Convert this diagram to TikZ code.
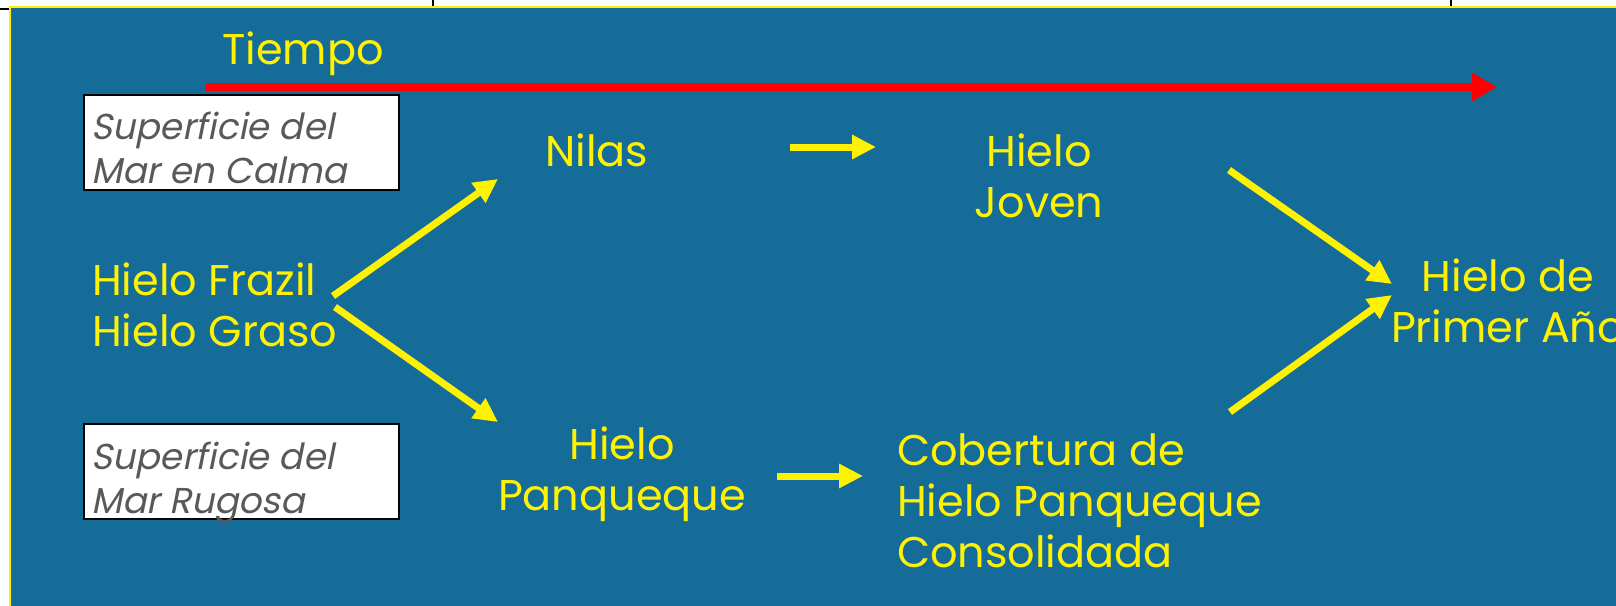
\documentclass[tikz,border=0pt]{standalone}
\usepackage{fontspec}
\setmainfont{Poppins}
\newfontfamily\boxfont[FakeSlant=0.2]{Poppins}
\usetikzlibrary{arrows.meta}
\definecolor{seablue}{RGB}{22,108,153}
\definecolor{boxgray}{RGB}{89,89,89}
\begin{document}
\begin{tikzpicture}[x=1pt,y=-1pt,
  lbl/.style={text=yellow, font=\fontsize{43}{51}\selectfont, inner sep=0pt},
  flow/.style={draw=yellow, line width=7pt, -{Triangle[length=24pt,width=23pt]}},
  timearrow/.style={draw=red, line width=8pt, -{Triangle[length=25pt,width=27pt]}},
  seabox/.style={draw=black, line width=2pt, fill=white, inner sep=0pt, anchor=north west},
  boxtxt/.style={text=boxgray, font=\boxfont\fontsize{36}{44}\selectfont, inner sep=0pt, align=left, anchor=base west}]
\useasboundingbox (0,0) rectangle (1616,605);
\clip (0,0) rectangle (1616,605);
% page frame
\fill[white] (0,0) rectangle (1616,605);
\draw[black, line width=2pt] (0,9) -- (10,9);
\draw[black, line width=2pt] (433,0) -- (433,7);
\draw[black, line width=2pt] (1451,0) -- (1451,7);
\draw[yellow, line width=2pt, fill=seablue] (10,7) rectangle (1630,620);
% time
\node[lbl, anchor=base] (tiempo) at (303,64) {Tiempo};
\coordinate (tstart) at (206,87);
\coordinate (tend) at (1497,87);
\draw[timearrow] (tstart) -- (tend);
% boxes
\node[seabox, minimum width=315pt, minimum height=95pt] (calmbox) at (83,94) {};
\node[boxtxt] (calm) at (91,183) {Superficie del\\Mar en Calma};
\node[seabox, minimum width=315pt, minimum height=95pt] (rugbox) at (83,423) {};
\node[boxtxt] (rug) at (91,513) {Superficie del\\Mar Rugosa};
% labels
\node[lbl, align=left, anchor=base west] (frazil) at (92,346) {Hielo Frazil\\Hielo Graso};
\node[lbl, anchor=base west] (nilas) at (545,166) {Nilas};
\node[lbl, align=center, anchor=base] (joven) at (1039,217) {Hielo\\Joven};
\node[lbl, align=center, anchor=base] (panq) at (622,510) {Hielo\\Panqueque};
\node[lbl, align=left, anchor=base west] (cob) at (897,567) {Cobertura de\\Hielo Panqueque\\Consolidada};
\node[lbl, align=center, anchor=base] (primer) at (1508,342) {Hielo de\\Primer Año};
% connectors
\coordinate (fzA) at (333,296);
\coordinate (niA) at (498,179);
\coordinate (fzB) at (335,307);
\coordinate (paA) at (498,422);
\coordinate (niB) at (790,147);
\coordinate (joA) at (876,147);
\coordinate (paB) at (777,476);
\coordinate (coA) at (863,476);
\coordinate (joB) at (1229,170);
\coordinate (prA) at (1392,284);
\coordinate (coB) at (1230,412);
\coordinate (prB) at (1392,295);
\draw[flow] (fzA) -- (niA);
\draw[flow] (fzB) -- (paA);
\draw[flow] (niB) -- (joA);
\draw[flow] (paB) -- (coA);
\draw[flow] (joB) -- (prA);
\draw[flow] (coB) -- (prB);
\end{tikzpicture}
\end{document}
